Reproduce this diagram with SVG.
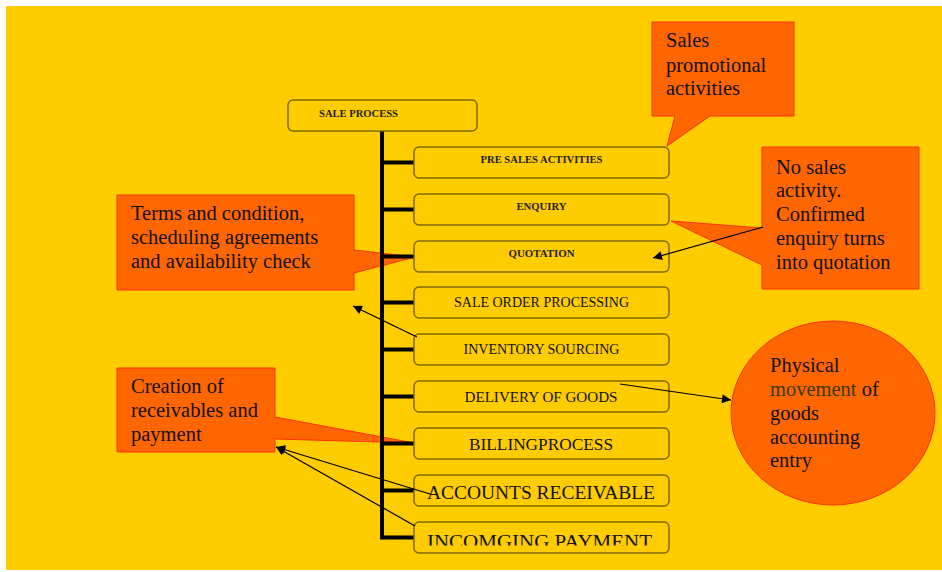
<svg xmlns="http://www.w3.org/2000/svg" width="942" height="572" viewBox="0 0 942 572">
<defs>
<style>
.box{fill:#FFCC00;stroke:#806a00;stroke-width:1.5}
.lbl{font-family:"Liberation Serif","Times New Roman",serif;fill:#111;text-anchor:middle}
.sm{font-weight:bold;fill:#222}
.call{fill:#FF6600;stroke:#FF3300;stroke-width:1}
.ct{font-family:"Liberation Serif","Times New Roman",serif;font-size:20.5px;fill:#111}
.trunk{stroke:#000;stroke-width:4;fill:none}
.arr{stroke:#000;stroke-width:1.2;fill:none;marker-end:url(#ah)}
</style>
<marker id="ah" viewBox="0 0 10 10" refX="10" refY="5" markerWidth="11" markerHeight="9" markerUnits="userSpaceOnUse" orient="auto">
<path d="M0,0 L10,5 L0,10 Z" fill="#000"/>
</marker>
<clipPath id="clipIP"><rect x="414" y="522" width="256" height="23.5"/></clipPath>
</defs>
<rect x="0" y="0" width="942" height="572" fill="#FFFFFF"/>
<rect x="6" y="6" width="936" height="564" fill="#FFCC00"/>

<g id="callout-promo">
<polygon class="call" points="652,22 794,22 794,116 710,116 667,146 675,116 652,116"/>
<text class="ct" x="666" y="47">Sales</text>
<text class="ct" x="666" y="72">promotional</text>
<text class="ct" x="666" y="95">activities</text>
</g>
<g id="callout-terms">
<polygon class="call" points="117,195 354,195 354,250 415,257 354,273 354,290 117,290"/>
<text class="ct" x="131" y="220">Terms and condition,</text>
<text class="ct" x="131" y="244">scheduling agreements</text>
<text class="ct" x="131" y="268">and availability check</text>
</g>
<g id="callout-nosales">
<polygon class="call" points="762,147 919,147 919,289 762,289 762,265 671,221 762,228"/>
<text class="ct" x="776" y="174">No sales</text>
<text class="ct" x="776" y="197">activity.</text>
<text class="ct" x="776" y="221">Confirmed</text>
<text class="ct" x="776" y="245">enquiry turns</text>
<text class="ct" x="776" y="269">into quotation</text>
</g>
<g id="callout-receivables">
<polygon class="call" points="117,368 275,368 275,417 414,443 275,439 275,452 117,452"/>
<text class="ct" x="131" y="393">Creation of</text>
<text class="ct" x="131" y="417">receivables and</text>
<text class="ct" x="131" y="441">payment</text>
</g>
<g id="callout-physical">
<ellipse class="call" cx="833" cy="413" rx="102" ry="92"/>
<text class="ct" x="770" y="372">Physical</text>
<text class="ct" x="770" y="396"><tspan fill="#3a3a00">movement</tspan> of</text>
<text class="ct" x="770" y="420">goods</text>
<text class="ct" x="770" y="444">accounting</text>
<text class="ct" x="770" y="467">entry</text>
</g>

<g id="connectors">
<path class="trunk" d="M382,131 V537.5 H414"/>
<path class="trunk" d="M382,162.5 H414 M382,209.5 H414 M382,256.5 H414 M382,302.5 H414 M382,349.5 H414 M382,396.5 H414 M382,443.5 H414 M382,490.5 H414"/>
</g>

<g id="n-sale-process">
<rect class="box" x="288" y="100" width="189" height="31" rx="5"/>
<text class="lbl sm" x="319" y="117" font-size="10.5" style="text-anchor:start" textLength="79" lengthAdjust="spacingAndGlyphs">SALE PROCESS</text>
</g>
<g id="n-presales">
<rect class="box" x="414" y="147" width="255" height="31" rx="5"/>
<text class="lbl sm" x="541.5" y="163" font-size="10.5" textLength="122" lengthAdjust="spacingAndGlyphs">PRE SALES ACTIVITIES</text>
</g>
<g id="n-enquiry">
<rect class="box" x="414" y="194" width="255" height="31" rx="5"/>
<text class="lbl sm" x="541.5" y="210" font-size="10.5" textLength="50" lengthAdjust="spacingAndGlyphs">ENQUIRY</text>
</g>
<g id="n-quotation">
<rect class="box" x="414" y="241" width="255" height="31" rx="5"/>
<text class="lbl sm" x="541.5" y="257" font-size="10.5" textLength="66" lengthAdjust="spacingAndGlyphs">QUOTATION</text>
</g>
<g id="n-sale-order">
<rect class="box" x="414" y="287" width="255" height="31" rx="5"/>
<text class="lbl" x="541.5" y="307" font-size="14" textLength="175" lengthAdjust="spacingAndGlyphs">SALE ORDER PROCESSING</text>
</g>
<g id="n-inventory">
<rect class="box" x="414" y="334" width="255" height="31" rx="5"/>
<text class="lbl" x="541.5" y="354" font-size="14" textLength="156" lengthAdjust="spacingAndGlyphs">INVENTORY SOURCING</text>
</g>
<g id="n-delivery">
<rect class="box" x="414" y="381" width="255" height="31" rx="5"/>
<text class="lbl" x="541" y="402" font-size="14.5" textLength="153" lengthAdjust="spacingAndGlyphs">DELIVERY OF GOODS</text>
</g>
<g id="n-billing">
<rect class="box" x="414" y="428" width="255" height="31" rx="5"/>
<text class="lbl" x="541" y="450" font-size="17" textLength="144" lengthAdjust="spacingAndGlyphs">BILLINGPROCESS</text>
</g>
<g id="n-accounts">
<rect class="box" x="414" y="475" width="255" height="31" rx="5"/>
<text class="lbl" x="541" y="499" font-size="19" textLength="228" lengthAdjust="spacingAndGlyphs">ACCOUNTS RECEIVABLE</text>
</g>
<g id="n-incoming">
<rect class="box" x="414" y="522" width="255" height="31" rx="5"/>
<text class="lbl" x="539.5" y="548" font-size="19.5" textLength="225" lengthAdjust="spacingAndGlyphs" clip-path="url(#clipIP)">INCOMGING PAYMENT</text>
</g>

<g id="arrows">
<line class="arr" x1="763" y1="227" x2="653" y2="258"/>
<line class="arr" x1="417" y1="337" x2="353" y2="306"/>
<line class="arr" x1="620" y1="384" x2="731" y2="400"/>
<line class="arr" x1="430" y1="494" x2="276" y2="447"/>
<line class="arr" x1="415" y1="526" x2="276" y2="447"/>
</g>
</svg>
